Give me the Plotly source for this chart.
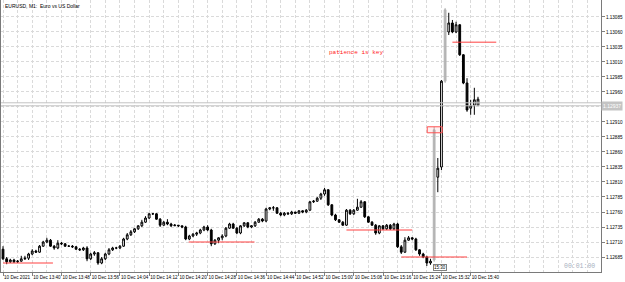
import pandas as pd
import plotly.graph_objects as go

# ---------------- data (EURUSD M1, 10 Dec 2021) ----------------
start_time = "2021-12-10 13:32"
n_bars = 131

open_ = [1.12698,1.12682,1.12677,1.12680,1.12677,1.12678,1.12682,1.12683,1.12690,1.12695,
         1.12693,1.12703,1.12710,1.12713,1.12703,1.12700,1.12708,1.12707,1.12703,1.12703,
         1.12702,1.12698,1.12697,1.12700,1.12682,1.12690,1.12692,1.12675,1.12682,1.12690,
         1.12697,1.12700,1.12700,1.12703,1.12715,1.12722,1.12727,1.12732,1.12737,1.12743,
         1.12750,1.12757,1.12757,1.12748,1.12738,1.12743,1.12740,1.12737,1.12738,1.12737,
         1.12735,1.12715,1.12720,1.12723,1.12725,1.12730,1.12735,1.12730,1.12707,1.12713,
         1.12717,1.12720,1.12733,1.12740,1.12733,1.12725,1.12737,1.12742,1.12735,1.12737,
         1.12743,1.12748,1.12745,1.12765,1.12767,1.12767,1.12758,1.12755,1.12758,1.12757,
         1.12760,1.12758,1.12762,1.12760,1.12763,1.12777,1.12778,1.12783,1.12790,1.12797,
         1.12772,1.12755,1.12747,1.12743,1.12738,1.12763,1.12757,1.12763,1.12768,1.12777,
         1.12752,1.12743,1.12738,1.12725,1.12737,1.12732,1.12738,1.12732,1.12740,1.12702,
         1.12693,1.12713,1.12717,1.12715,1.12697,1.12690,1.12685,1.12675,1.12680,1.12818,
         1.12835,1.12978,1.13060,1.13075,1.13060,1.13072,1.13022,1.12975,1.12933,1.12938,
         1.12938]
high = [1.12703,1.12685,1.12682,1.12682,1.12680,1.12687,1.12687,1.12692,1.12698,1.12697,
        1.12705,1.12712,1.12717,1.12715,1.12705,1.12713,1.12710,1.12708,1.12705,1.12705,
        1.12703,1.12700,1.12702,1.12703,1.12692,1.12695,1.12693,1.12685,1.12692,1.12700,
        1.12702,1.12702,1.12705,1.12717,1.12725,1.12730,1.12733,1.12738,1.12747,1.12753,
        1.12758,1.12758,1.12758,1.12750,1.12745,1.12748,1.12742,1.12740,1.12738,1.12737,
        1.12737,1.12722,1.12725,1.12727,1.12732,1.12737,1.12738,1.12732,1.12715,1.12718,
        1.12723,1.12735,1.12742,1.12742,1.12735,1.12738,1.12743,1.12743,1.12738,1.12745,
        1.12750,1.12750,1.12767,1.12768,1.12770,1.12768,1.12760,1.12760,1.12760,1.12762,
        1.12760,1.12763,1.12763,1.12765,1.12778,1.12780,1.12785,1.12792,1.12800,1.12798,
        1.12773,1.12757,1.12748,1.12745,1.12765,1.12765,1.12765,1.12782,1.12780,1.12778,
        1.12753,1.12745,1.12740,1.12738,1.12738,1.12740,1.12740,1.12742,1.12742,1.12705,
        1.12718,1.12720,1.12718,1.12717,1.12698,1.12692,1.12687,1.12682,1.12902,1.12850,
        1.12980,1.13100,1.13092,1.13080,1.13077,1.13073,1.13023,1.12983,1.12947,1.12967,
        1.12952]
low = [1.12680,1.12673,1.12675,1.12675,1.12675,1.12677,1.12680,1.12680,1.12688,1.12692,
       1.12692,1.12702,1.12708,1.12702,1.12697,1.12698,1.12705,1.12702,1.12702,1.12700,
       1.12697,1.12695,1.12695,1.12678,1.12680,1.12687,1.12672,1.12673,1.12680,1.12688,
       1.12695,1.12698,1.12698,1.12702,1.12713,1.12720,1.12725,1.12730,1.12735,1.12742,
       1.12748,1.12755,1.12747,1.12735,1.12737,1.12738,1.12735,1.12737,1.12735,1.12733,
       1.12713,1.12713,1.12718,1.12720,1.12723,1.12728,1.12728,1.12703,1.12705,1.12708,
       1.12713,1.12718,1.12732,1.12732,1.12723,1.12723,1.12735,1.12733,1.12733,1.12735,
       1.12742,1.12743,1.12743,1.12763,1.12762,1.12757,1.12753,1.12753,1.12755,1.12755,
       1.12757,1.12757,1.12758,1.12758,1.12762,1.12775,1.12777,1.12780,1.12787,1.12770,
       1.12753,1.12745,1.12742,1.12737,1.12737,1.12755,1.12755,1.12762,1.12767,1.12750,
       1.12742,1.12737,1.12722,1.12723,1.12730,1.12730,1.12730,1.12730,1.12700,1.12690,
       1.12692,1.12712,1.12713,1.12695,1.12687,1.12683,1.12670,1.12672,1.12677,1.12793,
       1.12830,1.12975,1.13055,1.13058,1.13058,1.13020,1.12973,1.12927,1.12922,1.12922,
       1.12937]
close = [1.12682,1.12677,1.12680,1.12677,1.12678,1.12682,1.12683,1.12690,1.12695,1.12693,
         1.12703,1.12710,1.12713,1.12703,1.12700,1.12708,1.12707,1.12703,1.12703,1.12702,
         1.12698,1.12697,1.12700,1.12682,1.12690,1.12692,1.12675,1.12682,1.12690,1.12697,
         1.12700,1.12700,1.12703,1.12715,1.12722,1.12727,1.12732,1.12737,1.12743,1.12750,
         1.12757,1.12757,1.12748,1.12738,1.12743,1.12740,1.12737,1.12738,1.12737,1.12735,
         1.12715,1.12720,1.12723,1.12725,1.12730,1.12735,1.12730,1.12707,1.12713,1.12717,
         1.12720,1.12733,1.12740,1.12733,1.12725,1.12737,1.12742,1.12735,1.12737,1.12743,
         1.12748,1.12745,1.12765,1.12767,1.12767,1.12758,1.12755,1.12758,1.12757,1.12760,
         1.12758,1.12762,1.12760,1.12763,1.12777,1.12778,1.12783,1.12790,1.12797,1.12772,
         1.12755,1.12747,1.12743,1.12738,1.12763,1.12757,1.12763,1.12768,1.12777,1.12752,
         1.12743,1.12738,1.12725,1.12737,1.12732,1.12738,1.12732,1.12740,1.12702,1.12693,
         1.12713,1.12717,1.12715,1.12697,1.12690,1.12685,1.12675,1.12678,1.12897,1.12833,
         1.12978,1.13097,1.13075,1.13060,1.13072,1.13022,1.12975,1.12930,1.12937,1.12947,
         1.12948]
highlight_bars = [118, 121]          # grey-painted news bars

bid_price = 1.12937
ask_price = 1.12942

# red horizontal levels (price, start, end)
level_prices = [1.12675, 1.12710, 1.12730, 1.12685, 1.13043]
level_starts = ["13:32:00", "14:22:50", "15:06:00", "15:21:00", "15:35:00"]
level_ends   = ["13:45:40", "14:40:50", "15:24:00", "15:39:00", "15:47:00"]

box_time = ["15:28:06", "15:32:12"]
box_price = [1.12892, 1.12902]

note_text = "patience is key"
note_time = "15:08:42"
note_price = 1.13025

y_ticks = [1.12685 + 0.00025 * k for k in range(17)]
y_tick_text = [f"{v:.5f}" if abs(v - 1.12935) > 1e-7 else "" for v in y_ticks]
x_tick_times = pd.date_range("2021-12-10 13:32", "2021-12-10 15:40", freq="8min")
x_tick_text = ["10 Dec 2021"] + [t.strftime("10 Dec %H:%M") for t in x_tick_times[1:]]

# ---------------- figure ----------------
times = pd.date_range(start_time, periods=n_bars, freq="min")
day = "2021-12-10 "

def subset(vals, keep):
    return [v if keep(i) else None for i, v in enumerate(vals)]

normal = lambda i: i not in highlight_bars
grey = lambda i: i in highlight_bars

fig = go.Figure()
fig.add_trace(go.Candlestick(
    x=times, open=subset(open_, normal), high=subset(high, normal),
    low=subset(low, normal), close=subset(close, normal),
    increasing=dict(line=dict(color="#000000", width=1), fillcolor="#ffffff"),
    decreasing=dict(line=dict(color="#000000", width=1), fillcolor="#000000"),
    whiskerwidth=0, showlegend=False, hoverinfo="skip"))
fig.add_trace(go.Candlestick(
    x=times, open=subset(open_, grey), high=subset(high, grey),
    low=subset(low, grey), close=subset(close, grey),
    increasing=dict(line=dict(color="#b4b4b4", width=1), fillcolor="#b4b4b4"),
    decreasing=dict(line=dict(color="#b4b4b4", width=1), fillcolor="#b4b4b4"),
    whiskerwidth=0, showlegend=False, hoverinfo="skip"))

# red levels
for p, s, e in zip(level_prices, level_starts, level_ends):
    fig.add_trace(go.Scatter(x=[day + s, day + e], y=[p, p], mode="lines",
                             line=dict(color="#ff4040", width=1),
                             showlegend=False, hoverinfo="skip"))

# red box around news bar top
fig.add_shape(type="rect", xref="x", yref="y",
              x0=day + box_time[0], x1=day + box_time[1],
              y0=box_price[0], y1=box_price[1],
              line=dict(color="#ff5050", width=1), fillcolor="rgba(255,0,0,0.06)")

# bid / ask lines
for p in (bid_price, ask_price):
    fig.add_shape(type="line", xref="paper", yref="y", x0=0, x1=1, y0=p, y1=p,
                  line=dict(color="#c4c4c4", width=1))

fig.add_annotation(x=day + note_time, y=note_price, xref="x", yref="y",
                   text=note_text, showarrow=False,
                   font=dict(family="Liberation Mono", size=6, color="#ff2020"))

# title
fig.add_annotation(x=0.004, y=0.997, xref="paper", yref="paper", xanchor="left",
                   yanchor="top", text="EURUSD, M1:  Euro vs US Dollar", showarrow=False,
                   font=dict(family="Liberation Sans", size=5, color="#000000"))

# current price tag
fig.add_annotation(x=1.0, y=bid_price, xref="paper", yref="y", xanchor="left",
                   yanchor="middle", text=f"{bid_price:.5f}", showarrow=False,
                   bgcolor="#c4c4c4", borderpad=1,
                   font=dict(family="Liberation Sans", size=5, color="#ffffff"))

# time marker label
fig.add_annotation(x=day + "15:29:45", y=0.015, xref="x", yref="paper", xanchor="left",
                   yanchor="middle", text="15:30", showarrow=False,
                   bgcolor="#ffffff", bordercolor="#808080", borderwidth=1, borderpad=0,
                   font=dict(family="Liberation Sans", size=4.5, color="#000000"))

# countdown
fig.add_annotation(x=0.993, y=0.022, xref="paper", yref="paper", xanchor="right",
                   yanchor="middle", text="00:01:00", showarrow=False,
                   font=dict(family="Liberation Mono", size=6.5, color="#a8b0c0"))

grid = "#dadada"
fig.update_layout(
    width=625, height=282,
    margin=dict(l=1, r=24, t=0, b=10),
    paper_bgcolor="#ffffff", plot_bgcolor="#ffffff",
    font=dict(family="Liberation Sans", size=5, color="#000000"),
    hovermode=False, dragmode=False,
    xaxis=dict(
        type="date",
        range=["2021-12-10 13:31:27", "2021-12-10 16:15:40"],
        rangeslider=dict(visible=False),
        tickmode="array", tickvals=x_tick_times, ticktext=x_tick_text,
        tickangle=0, automargin=False,
        ticks="outside", ticklen=3, tickcolor="#808080", tickwidth=1,
        ticklabelposition="outside right",
        tickfont=dict(size=4.6, color="#000000"),
        showgrid=True, gridcolor=grid, griddash="3px,2px", gridwidth=1,
        minor=dict(dtick=240000, tick0="2021-12-10 13:32", showgrid=True,
                   gridcolor=grid, griddash="3px,2px", gridwidth=1),
        showline=True, linecolor="#7a7a7a", linewidth=1, mirror=True,
        zeroline=False, fixedrange=True,
    ),
    yaxis=dict(
        range=[1.12660, 1.131133], side="right", automargin=False,
        tickmode="array", tickvals=y_ticks, ticktext=y_tick_text,
        ticks="outside", ticklen=3, tickcolor="#808080", tickwidth=1,
        tickfont=dict(size=4.6, color="#000000"),
        showgrid=True, gridcolor=grid, griddash="3px,2px", gridwidth=1,
        showline=True, linecolor="#7a7a7a", linewidth=1, mirror=True,
        zeroline=False, fixedrange=True,
    ),
)

fig.write_html("out.html")
